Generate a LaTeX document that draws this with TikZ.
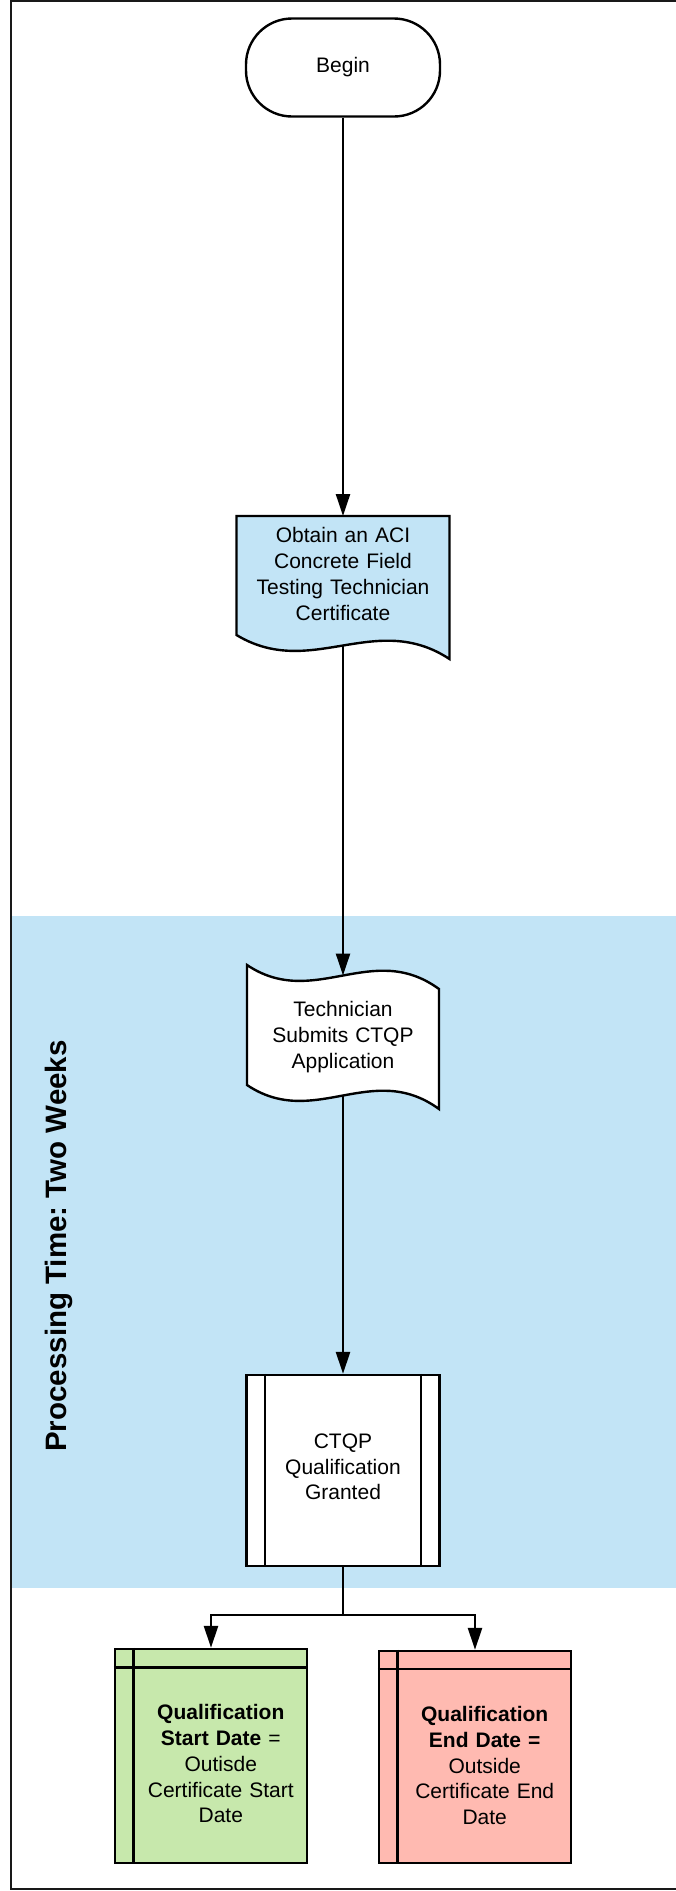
\documentclass[tikz,border=0pt]{standalone}
\usepackage{fontspec}
\setmainfont{Liberation Sans}
\frenchspacing
\usetikzlibrary{arrows.meta,calc}
\definecolor{bandblue}{RGB}{194,228,246}
\definecolor{startgreen}{RGB}{199,232,172}
\definecolor{endpink}{RGB}{255,186,177}
\begin{document}
\begin{tikzpicture}[x=1pt,y=-1pt,
  shp/.style={draw=black,line width=2.4pt},
  lbl/.style={align=center,font=\fontsize{21}{25.7}\selectfont,text width=200pt,inner sep=0pt},
  bnd/.style={inner sep=0pt,outer sep=0pt},
  arr/.style={line width=2.4pt,-{Triangle[length=22pt,width=14pt]}},
  ]
\useasboundingbox (0,0) rectangle (676,1891);
% swimlane band
\fill[bandblue] (11,916) rectangle (676,1588);
% frame
\draw[black!90,line width=2pt] (676,1) -- (10.5,1) -- (10.5,1889) -- (676,1889);
\node[rotate=90,font=\bfseries\fontsize{29.5}{33}\selectfont,inner sep=0pt] (lane) at (59,1246) {Processing Time: Two Weeks};

% Begin
\node[shp,fill=white,rounded corners=46pt,minimum width=194pt,minimum height=98pt,inner sep=0pt,
      font=\fontsize{21}{25.7}\selectfont] (begin) at (343,67.5) {Begin};

% Document 1
\node[bnd,minimum width=213pt,minimum height=143pt] (doc1) at (343,587.5) {};
\draw[shp,fill=bandblue] (doc1.north west) -- (doc1.north east) -- (449.5,659)
   .. controls (375,610) and (311,680) .. (236.5,635) -- cycle;
\node[lbl] (doc1t) at (343,574) {Obtain an ACI\\Concrete Field\\Testing Technician\\Certificate};
\coordinate (doc1w) at (343,645.5);

% Document 2 (tape)
\node[bnd,minimum width=192pt,minimum height=144pt] (doc2) at (343,1037) {};
\draw[shp,fill=white] (247,965) .. controls (314.2,1010) and (371.8,940) .. (439,989)
   -- (439,1109) .. controls (371.8,1060) and (314.2,1130) .. (247,1085) -- cycle;
\node[lbl] (doc2t) at (343,1037) {Technician\\Submits CTQP\\Application};
\coordinate (doc2top) at (343,975.5);
\coordinate (doc2bot) at (343,1095.5);

% Predefined process
\node[shp,fill=white,minimum width=193pt,minimum height=191pt,inner sep=0pt] (proc) at (343,1470.5) {};
\draw[shp] ($(proc.north west)+(19.5,0)$) -- ($(proc.south west)+(19.5,0)$);
\draw[shp] ($(proc.north east)+(-19.5,0)$) -- ($(proc.south east)+(-19.5,0)$);
\node[lbl] (proct) at (343,1467) {CTQP\\Qualification\\Granted};

% Start date box
\node[shp,fill=startgreen,minimum width=192pt,minimum height=214pt,inner sep=0pt] (start) at (211,1756) {};
\draw[shp] ($(start.north west)+(19.5,0)$) -- ($(start.south west)+(19.5,0)$);
\draw[shp] ($(start.north west)+(0,19.7)$) -- ($(start.north east)+(0,19.7)$);
\node[lbl,text width=175pt] (startt) at (220.8,1763.8) {\textbf{Qualification}\\\textbf{Start Date} =\\Outisde\\Certificate Start\\Date};

% End date box
\node[shp,fill=endpink,minimum width=192pt,minimum height=212pt,inner sep=0pt] (endd) at (475,1757) {};
\draw[shp] ($(endd.north west)+(19.5,0)$) -- ($(endd.south west)+(19.5,0)$);
\draw[shp] ($(endd.north west)+(0,19.2)$) -- ($(endd.north east)+(0,19.2)$);
\node[lbl,text width=175pt] (endt) at (484.7,1765.5) {\textbf{Qualification}\\\textbf{End Date =}\\Outside\\Certificate End\\Date};

% connectors
\draw[arr] (begin.south) -- (doc1.north);
\draw[arr] (doc1w) -- (doc2top);
\draw[arr] (doc2bot) -- (proc.north);
\draw[arr] (proc.south) -- ++(0,48) -| (start.north);
\draw[arr] (proc.south) -- ++(0,48) -| (endd.north);
\end{tikzpicture}
\end{document}
